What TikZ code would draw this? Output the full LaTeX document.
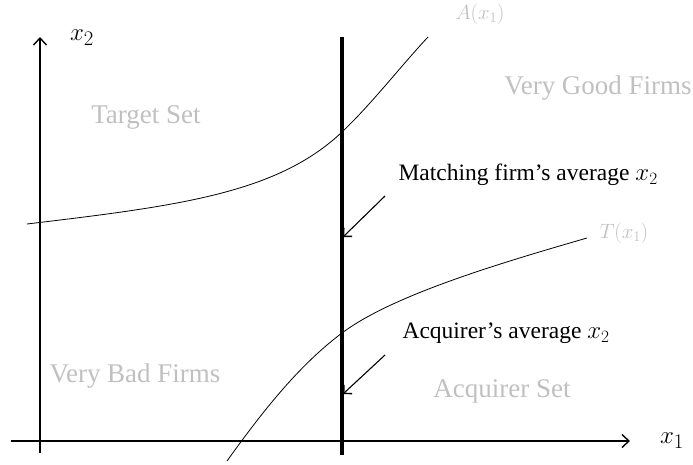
\documentclass[tikz,border=0pt]{standalone}
\usepackage{fontspec}
\setmainfont{Liberation Serif}
\usetikzlibrary{arrows.meta}
\definecolor{lightlbl}{RGB}{192,192,192}
\begin{document}
\begin{tikzpicture}[x=1pt,y=-1pt,
  axis/.style={line width=1.1pt,-{Straight Barb[length=7pt,width=13pt,line width=1.4pt]}},
  curve/.style={line width=0.8pt},
  pointer/.style={line width=1.1pt,-{Straight Barb[length=6pt,width=12pt,line width=1.4pt]}},
  region/.style={text=lightlbl,font=\fontsize{27}{30}\selectfont},
  funlbl/.style={text=lightlbl,font=\fontsize{20}{24}\selectfont},
  note/.style={text=black,font=\fontsize{23.5}{27}\selectfont,anchor=west},
  axlbl/.style={font=\fontsize{32}{35}\selectfont}]
\useasboundingbox (0,0) rectangle (693,464);
% axes
\coordinate (yb) at (40,453);
\coordinate (yt) at (40,37);
\coordinate (xl) at (11,441);
\coordinate (xr) at (630,441);
\draw[axis] (yb) -- (yt);
\draw[axis] (xl) -- (xr);
\node[axlbl] (x2) at (82,38) {$x_2$};
\node[axlbl] (x1) at (672,441) {$x_1$};
% thick vertical line
\coordinate (vt) at (342,37);
\coordinate (vb) at (342,455);
\draw[line width=3.6pt] (vt) -- (vb);
% curve A
\coordinate (a0) at (27,224);
\coordinate (a1) at (342,132);
\coordinate (a2) at (428,37);
\draw[curve] (a0) .. controls (177,206) and (277,193.75) .. (a1)
                  .. controls (372,103.5) and (400,67) .. (a2);
% curve T
\coordinate (t0) at (227,461);
\coordinate (t1) at (342,333);
\coordinate (t2) at (587,238);
\draw[curve] (t0) .. controls (267,405) and (302,363) .. (t1)
                  .. controls (392,295.5) and (497,264) .. (t2);
% labels
\node[funlbl] (A) at (480,14) {$A(x_1)$};
\node[funlbl] (T) at (624,233) {$T(x_1)$};
\node[region] (vg) at (598,88) {Very Good Firms};
\node[region] (ts) at (146,117) {Target Set};
\node[region] (vb2) at (135,376) {Very Bad Firms};
\node[region] (as) at (502,391) {Acquirer Set};
\node[note] (m) at (395,175) {Matching firm’s average $x_2$};
\node[note] (q) at (399,333) {Acquirer’s average $x_2$};
% pointers
\coordinate (m0) at (385,196);
\coordinate (m1) at (343,237);
\coordinate (q0) at (385,355);
\coordinate (q1) at (343,394);
\draw[pointer] (m0) -- (m1);
\draw[pointer] (q0) -- (q1);
\end{tikzpicture}
\end{document}
